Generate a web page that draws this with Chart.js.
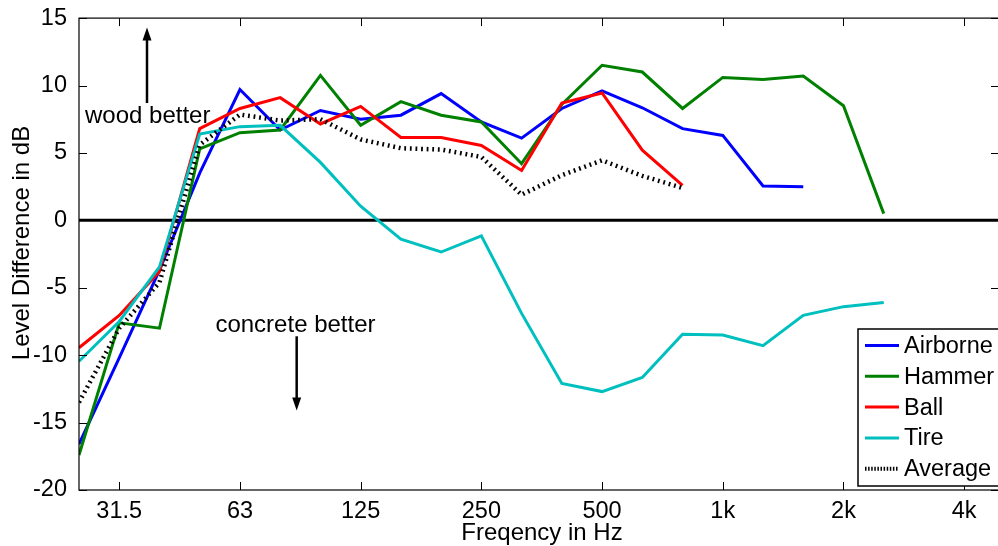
<!DOCTYPE html>
<html>
<head>
<meta charset="utf-8">
<title>Level Difference wood / concrete</title>
<script src="https://cdn.jsdelivr.net/npm/chart.js@4.4.0/dist/chart.umd.min.js"></script>
<style>
  html, body { margin: 0; padding: 0; background: #fff; overflow: hidden; }
  canvas { display: block; }
</style>
</head>
<body>
<canvas id="levelChart" width="998" height="546"></canvas>
<script>
// Third-octave band centres in Hz; points are placed by band index
const bands = [25, 31.5, 40, 50, 63, 80, 100, 125, 160, 200, 250, 315, 400, 500, 630, 800,
  1000, 1250, 1600, 2000, 2500, 3150, 4000];
const tickBands = [31.5, 63, 125, 250, 500, 1000, 2000, 4000];
const tickLabels = ["31.5", "63", "125", "250", "500", "1k", "2k", "4k"];
const yTicks = [-20, -15, -10, -5, 0, 5, 10, 15];

// level difference (dB) per band, starting at 25 Hz
const airborne = [-16.6, -10.2, -3.7, 3.5, 9.7, 6.7, 8.15, 7.5, 7.8, 9.4, 7.3, 6.1, 8.3, 9.6, 8.35, 6.8, 6.3, 2.55, 2.5];
const hammer = [-17.4, -7.6, -8.0, 5.3, 6.5, 6.7, 10.75, 7.05, 8.8, 7.8, 7.3, 4.2, 8.6, 11.5, 11.0, 8.3, 10.6, 10.45, 10.7, 8.5, 0.5];
const ball = [-9.45, -7.05, -3.8, 6.8, 8.3, 9.1, 7.15, 8.45, 6.15, 6.15, 5.55, 3.7, 8.7, 9.45, 5.2, 2.6];
const tire = [-10.45, -7.5, -3.45, 6.4, 6.95, 7.05, 4.3, 1.05, -1.4, -2.35, -1.15, -6.9, -12.1, -12.7, -11.65, -8.45, -8.5, -9.3, -7.05, -6.4, -6.1];
const average = [-13.5, -8.0, -4.6, 5.6, 7.85, 7.4, 7.5, 6.0, 5.35, 5.25, 4.7, 1.9, 3.35, 4.45, 3.3, 2.4];

const FONT = "Liberation Sans, Arial, Helvetica, sans-serif";
const toPoints = (vals) => vals.map((v, i) => ({ x: i, y: v }));

const series = [
  { label: "Airborne", data: airborne, color: "#0000ff", dash: [] },
  { label: "Hammer", data: hammer, color: "#008000", dash: [] },
  { label: "Ball", data: ball, color: "#ff0000", dash: [] },
  { label: "Tire", data: tire, color: "#00bfbf", dash: [] },
  { label: "Average", data: average, color: "#000000", dash: [1.8, 3.8] },
];

function arrow(ctx, x, y1, y2) {
  // shaft from y1 to the tip at y2
  const dir = y2 < y1 ? 1 : -1;
  ctx.beginPath();
  ctx.moveTo(x, y1);
  ctx.lineTo(x, y2 + dir * 10);
  ctx.stroke();
  ctx.beginPath();
  ctx.moveTo(x, y2);
  ctx.lineTo(x - 4.5, y2 + dir * 13);
  ctx.lineTo(x + 4.5, y2 + dir * 13);
  ctx.closePath();
  ctx.fill();
}

// axis box, inward ticks, zero line, titles, notes and the legend
const frame = {
  id: "frame",
  beforeDatasetsDraw(chart) {
    const { ctx, chartArea: a, scales: { y } } = chart;
    const y0 = y.getPixelForValue(0);
    ctx.save();
    ctx.strokeStyle = "#000";
    ctx.lineWidth = 3;
    ctx.beginPath();
    ctx.moveTo(a.left, y0);
    ctx.lineTo(a.right, y0);
    ctx.stroke();
    ctx.restore();
  },
  afterDraw(chart) {
    const { ctx, chartArea: a, scales: { x, y } } = chart;
    ctx.save();
    ctx.strokeStyle = "#000";
    ctx.fillStyle = "#000";
    // the right edge of the box sits just past the canvas
    ctx.lineWidth = 1.2;
    ctx.strokeRect(a.left, a.top, a.right - a.left + 4, a.bottom - a.top);

    ctx.lineWidth = 1;
    ctx.beginPath();
    tickBands.forEach((f) => {
      const px = Math.round(x.getPixelForValue(bands.indexOf(f))) + 0.5;
      ctx.moveTo(px, a.bottom); ctx.lineTo(px, a.bottom - 8);
      ctx.moveTo(px, a.top); ctx.lineTo(px, a.top + 8);
    });
    yTicks.forEach((v) => {
      const py = Math.round(y.getPixelForValue(v)) + 0.5;
      ctx.moveTo(a.left, py); ctx.lineTo(a.left + 8, py);
      ctx.moveTo(a.right + 1, py); ctx.lineTo(a.right - 7, py);
    });
    ctx.stroke();

    // axis titles
    ctx.font = "24px " + FONT;
    ctx.textAlign = "center";
    ctx.textBaseline = "middle";
    ctx.fillText("Freqency in Hz", 542, 533);
    ctx.save();
    ctx.translate(22, 243);
    ctx.rotate(-Math.PI / 2);
    ctx.fillText("Level Difference in dB", 0, 0);
    ctx.restore();

    // notes with arrows
    ctx.lineWidth = 2.5;
    ctx.textAlign = "left";
    ctx.fillText("wood better", x.getPixelForValue(0.15), y.getPixelForValue(7.7));
    arrow(ctx, x.getPixelForValue(1.69), y.getPixelForValue(8.7), y.getPixelForValue(14.3));
    ctx.textAlign = "center";
    ctx.fillText("concrete better", x.getPixelForValue(5.38), y.getPixelForValue(-7.8));
    arrow(ctx, x.getPixelForValue(5.41), y.getPixelForValue(-8.6), y.getPixelForValue(-14.1));

    // legend box in the lower right corner
    const lx = 858, ly = 329, rowH = 30.8;
    ctx.font = "23.5px " + FONT;
    ctx.fillStyle = "#fff";
    ctx.fillRect(lx, ly, a.right - lx + 6, a.bottom - 4 - ly);
    ctx.lineWidth = 1.5;
    ctx.strokeRect(lx, ly, a.right - lx + 6, a.bottom - 4 - ly);
    ctx.textAlign = "left";
    series.forEach((s, i) => {
      const cy = ly + 16.5 + i * rowH;
      ctx.strokeStyle = s.color;
      ctx.lineWidth = s.dash.length ? 4 : 3;
      ctx.setLineDash(s.dash.length ? [1.5, 1.6] : []);
      ctx.beginPath();
      ctx.moveTo(865, cy);
      ctx.lineTo(899, cy);
      ctx.stroke();
      ctx.setLineDash([]);
      ctx.fillStyle = "#000";
      ctx.fillText(s.label, 904, cy + 1);
    });
    ctx.restore();
  },
};

new Chart(document.getElementById("levelChart").getContext("2d"), {
  type: "line",
  data: {
    datasets: series.map((s, i) => ({
      label: s.label,
      data: toPoints(s.data),
      borderColor: s.color,
      backgroundColor: s.color,
      borderWidth: s.dash.length ? 4.5 : 3,
      borderDash: s.dash,
      pointRadius: 0,
      tension: 0,
      fill: false,
      order: series.length - i,
    })),
  },
  options: {
    responsive: false,
    devicePixelRatio: 1,
    animation: false,
    layout: { padding: { top: 17, right: 0, left: 0, bottom: 0 } },
    plugins: { legend: { display: false }, tooltip: { enabled: false } },
    scales: {
      x: {
        type: "linear",
        min: 0,
        max: 22.84,
        grid: { display: false },
        border: { display: false },
        afterBuildTicks: (scale) => {
          scale.ticks = tickBands.map((f) => ({ value: bands.indexOf(f) }));
        },
        afterFit: (scale) => { scale.height = 56; },
        ticks: {
          autoSkip: false,
          maxRotation: 0,
          padding: -1,
          color: "#000",
          font: { family: FONT, size: 23.5 },
          callback: (v) => tickLabels[tickBands.indexOf(bands[v])],
        },
      },
      y: {
        min: -20,
        max: 15,
        grid: { display: false },
        border: { display: false },
        afterBuildTicks: (scale) => {
          scale.ticks = yTicks.map((v) => ({ value: v }));
        },
        afterFit: (scale) => { scale.width = 79; },
        ticks: {
          padding: 4,
          color: "#000",
          font: { family: FONT, size: 23.5 },
        },
      },
    },
  },
  plugins: [frame],
});
</script>
</body>
</html>
